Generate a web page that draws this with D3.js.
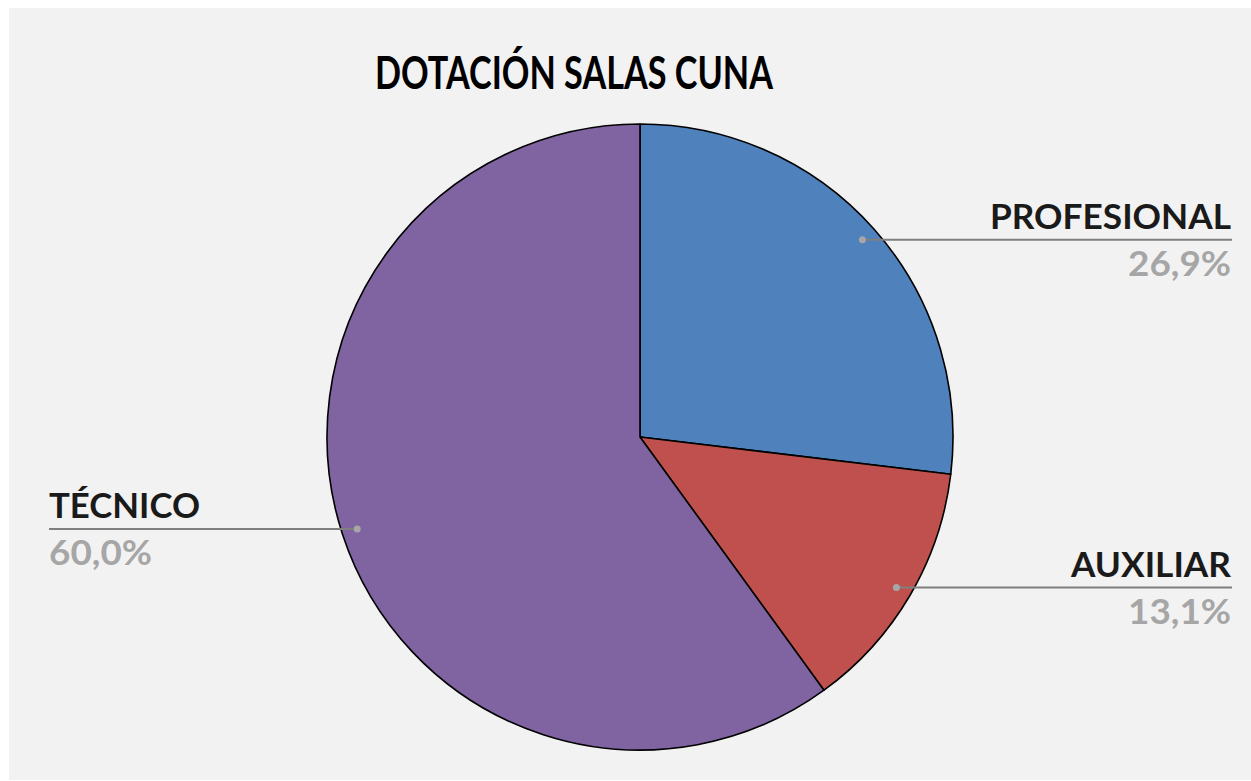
<!DOCTYPE html>
<html>
<head>
<meta charset="utf-8">
<script src="https://cdn.jsdelivr.net/npm/d3@7"></script>
<style>
  html, body { margin: 0; padding: 0; background: #ffffff; }
  svg { display: block; }
  text { font-family: Lato, "Open Sans", sans-serif; font-weight: bold; }
</style>
</head>
<body>
<svg id="chart" width="1251" height="781"></svg>
<script>
const title = "DOTACIÓN SALAS CUNA";
const categories = ["PROFESIONAL", "AUXILIAR", "TÉCNICO"];
const values = [26.9, 13.1, 60.0];
const colors = ["#4f81bd", "#c0504d", "#8064a2"];
const labelSide = ["right", "right", "left"];

const W = 1251, H = 781;
const svg = d3.select("#chart");

svg.append("rect").attr("x", 9).attr("y", 8).attr("width", W - 9).attr("height", 772).attr("fill", "#f2f2f2");

svg.append("text").attr("x", 375).attr("y", 89)
  .attr("textLength", 398).attr("lengthAdjust", "spacingAndGlyphs")
  .attr("font-size", 46).attr("fill", "#000").text(title);

const cx = 640, cy = 437, R = 313;
const data = categories.map((c, i) => ({ name: c, value: values[i], color: colors[i], side: labelSide[i] }));
const pie = d3.pie().sort(null).value(d => d.value);
const arcs = pie(data);
const arc = d3.arc().innerRadius(0).outerRadius(R);

const g = svg.append("g").attr("transform", `translate(${cx},${cy})`);
g.selectAll("path").data(arcs).join("path")
  .attr("d", arc).attr("fill", d => d.data.color)
  .attr("stroke", "#000").attr("stroke-width", 1.6).attr("stroke-linejoin", "round");

const fmt = v => d3.format(".1f")(v).replace(".", ",") + "%";
const dotR = R * 0.95;
const nameW = { "PROFESIONAL": 241, "AUXILIAR": 160, "TÉCNICO": 151 };

arcs.forEach(a => {
  const mid = (a.startAngle + a.endAngle) / 2;
  const dx = cx + dotR * Math.sin(mid);
  const dy = cy - dotR * Math.cos(mid);
  const right = a.data.side === "right";
  const x1 = right ? 1232 : 49;
  svg.append("line").attr("x1", dx).attr("y1", dy).attr("x2", x1).attr("y2", dy)
    .attr("stroke", "#7f7f7f").attr("stroke-width", 2);
  svg.append("circle").attr("cx", dx).attr("cy", dy).attr("r", 3.5).attr("fill", "#a6a6a6");
  const tx = right ? 1231 : 49;
  const anchor = right ? "end" : "start";
  svg.append("text").attr("x", tx).attr("y", dy - 11).attr("text-anchor", anchor)
    .attr("font-size", 35).attr("fill", "#1a1a1a")
    .attr("textLength", nameW[a.data.name]).attr("lengthAdjust", "spacingAndGlyphs")
    .text(a.data.name);
  svg.append("text").attr("x", tx).attr("y", dy + 36).attr("text-anchor", anchor)
    .attr("font-size", 35).attr("fill", "#a6a6a6")
    .attr("textLength", 103).attr("lengthAdjust", "spacingAndGlyphs")
    .text(fmt(a.data.value));
});
</script>
</body>
</html>
